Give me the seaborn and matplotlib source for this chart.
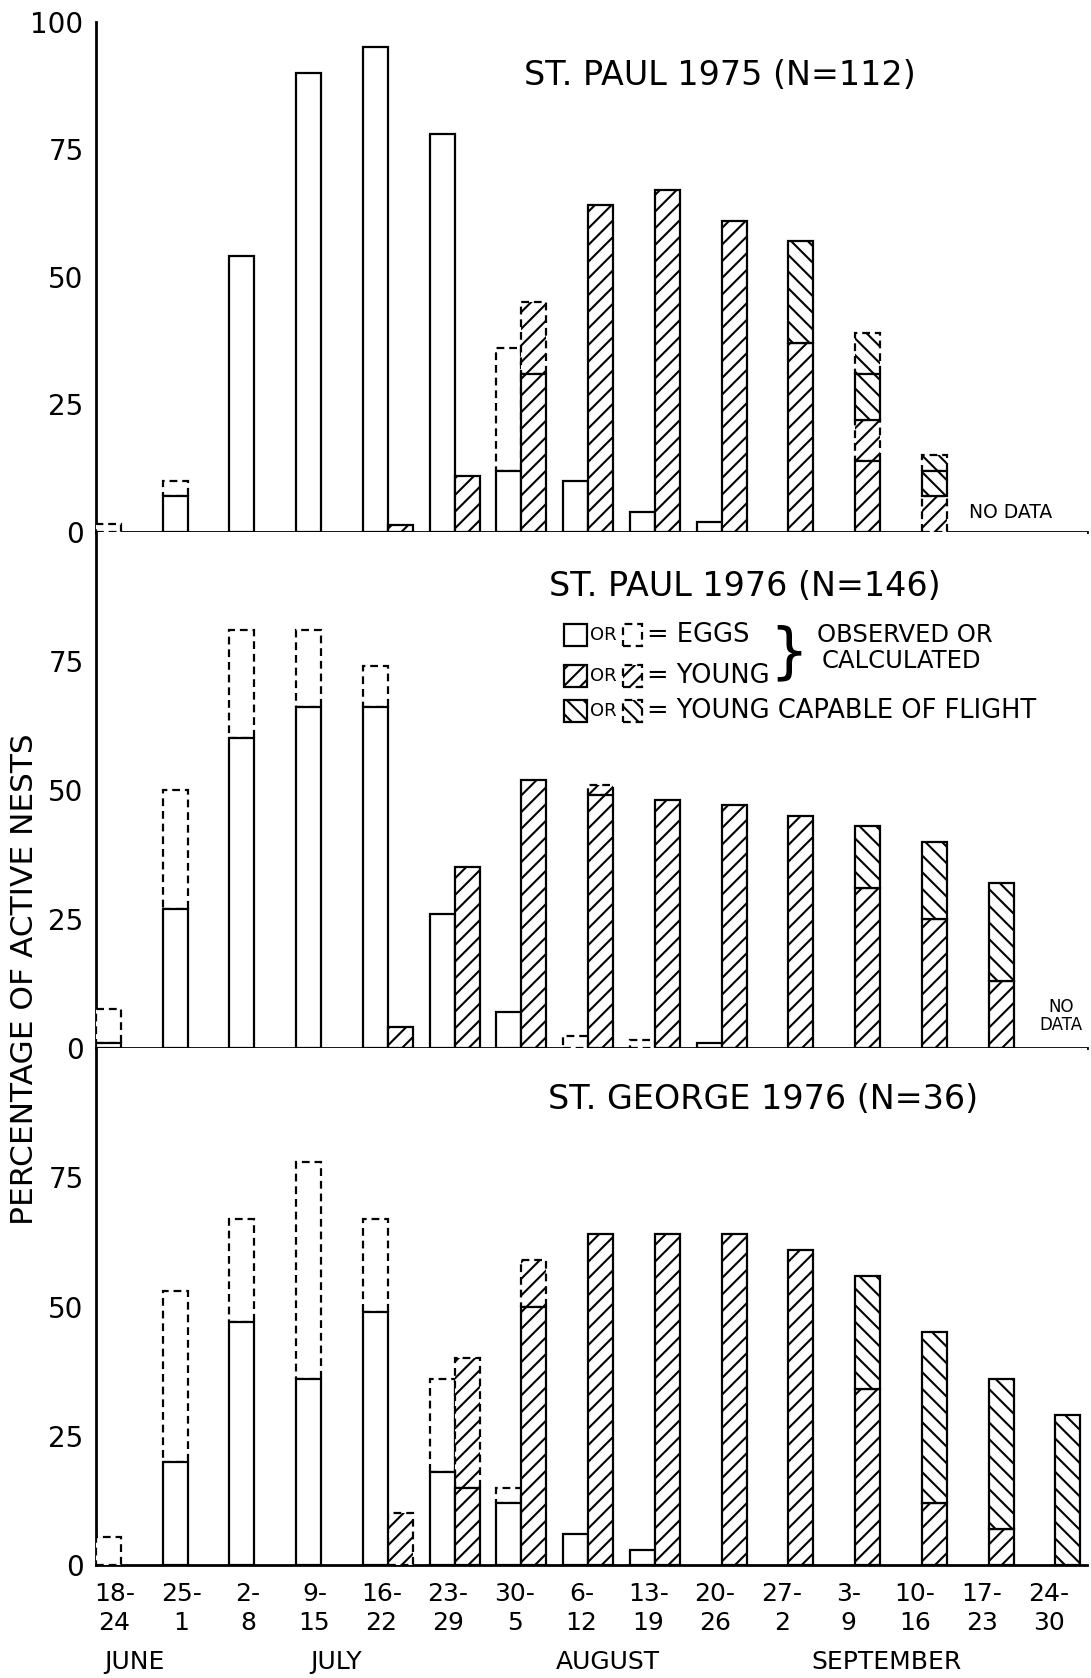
# %%
# ===== Importing Libraries =====

import numpy as np
import matplotlib.pyplot as plt
from matplotlib import font_manager
from matplotlib.patches import Rectangle
import seaborn as sns

sns.set_theme(style='white')
plt.rcParams['font.family'] = ['DejaVu Sans']
plt.rcParams['hatch.linewidth'] = 1.5
plt.rcParams['hatch.color'] = 'black'

# %%
# ===== Data (percentage of active nests per week) =====

weeks = ['18-\n24', '25-\n1', '2-\n8', '9-\n15', '16-\n22', '23-\n29', '30-\n5',
         '6-\n12', '13-\n19', '20-\n26', '27-\n2', '3-\n9', '10-\n16', '17-\n23', '24-\n30']
months = ['JUNE', 'JULY', 'AUGUST', 'SEPTEMBER']
titles = ['ST. PAUL 1975 (N=112)', 'ST. PAUL 1976 (N=146)', 'ST. GEORGE 1976 (N=36)']

# St. Paul 1975
sp75_eggs_obs = [0, 7, 54, 90, 95, 78, 12, 10, 4, 2, 0, 0, 0, 0, 0]
sp75_eggs_calc = [1.5, 3, 0, 0, 0, 0, 24, 0, 0, 0, 0, 0, 0, 0, 0]
sp75_young_obs = [0, 0, 0, 0, 1.3, 11, 31, 64, 67, 61, 37, 14, 0, 0, 0]
sp75_young_calc = [0, 0, 0, 0, 0, 0, 14, 0, 0, 0, 0, 8, 7, 0, 0]
sp75_flight_obs = [0, 0, 0, 0, 0, 0, 0, 0, 0, 0, 20, 9, 5, 0, 0]
sp75_flight_calc = [0, 0, 0, 0, 0, 0, 0, 0, 0, 0, 0, 8, 3, 0, 0]

# St. Paul 1976
sp76_eggs_obs = [1, 27, 60, 66, 66, 26, 7, 0, 0, 1, 0, 0, 0, 0, 0]
sp76_eggs_calc = [6.5, 23, 21, 15, 8, 0, 0, 2.3, 1.5, 0, 0, 0, 0, 0, 0]
sp76_young_obs = [0, 0, 0, 0, 4, 35, 52, 49, 48, 47, 45, 31, 25, 13, 0]
sp76_young_calc = [0, 0, 0, 0, 0, 0, 0, 2, 0, 0, 0, 0, 0, 0, 0]
sp76_flight_obs = [0, 0, 0, 0, 0, 0, 0, 0, 0, 0, 0, 12, 15, 19, 0]
sp76_flight_calc = [0] * 15

# St. George 1976
sg76_eggs_obs = [0, 20, 47, 36, 49, 18, 12, 6, 3, 0, 0, 0, 0, 0, 0]
sg76_eggs_calc = [5.5, 33, 20, 42, 18, 18, 3, 0, 0, 0, 0, 0, 0, 0, 0]
sg76_young_obs = [0, 0, 0, 0, 0, 15, 50, 64, 64, 64, 61, 34, 12, 7, 0]
sg76_young_calc = [0, 0, 0, 0, 10, 25, 9, 0, 0, 0, 0, 0, 0, 0, 0]
sg76_flight_obs = [0, 0, 0, 0, 0, 0, 0, 0, 0, 0, 0, 22, 33, 29, 29]
sg76_flight_calc = [0] * 15

panels = [
    (sp75_eggs_obs, sp75_eggs_calc, sp75_young_obs, sp75_young_calc, sp75_flight_obs, sp75_flight_calc),
    (sp76_eggs_obs, sp76_eggs_calc, sp76_young_obs, sp76_young_calc, sp76_flight_obs, sp76_flight_calc),
    (sg76_eggs_obs, sg76_eggs_calc, sg76_young_obs, sg76_young_calc, sg76_flight_obs, sg76_flight_calc),
]

# %%
# ===== Styles =====

names = {f.name for f in font_manager.fontManager.ttflist}
if 'Liberation Sans Narrow' in names:
    title_font, title_size = 'Liberation Sans Narrow', 31
else:
    title_font, title_size = 'DejaVu Sans', 24

W = 0.375
LW = 1.6
DASH = (0, (3.5, 2.2))
YOUNG, FLIGHT = '//', '\\\\'
solid = dict(facecolor='white', edgecolor='black', linewidth=LW)
dashed = dict(facecolor='white', edgecolor='black', linewidth=LW, linestyle=DASH)


def stacked(ax, xpos, bottom, heights, hatch, style, z):
    h = np.asarray(heights, dtype=float)
    m = h > 0
    ax.bar(xpos[m], h[m], W, bottom=bottom[m], hatch=hatch, zorder=z, **style)
    return bottom + h


def draw_panel(ax, eggs_obs, eggs_calc, young_obs, young_calc, flight_obs, flight_calc):
    x = np.arange(len(weeks), dtype=float)
    xe = x - W / 2
    xy = x + W / 2

    # eggs: observed (solid) below, calculated (dashed) on top
    base = np.zeros(len(weeks))
    top = stacked(ax, xe, base, eggs_obs, None, solid, 4)
    stacked(ax, xe, top, eggs_calc, None, dashed, 3)

    # young, then young capable of flight
    b0 = np.zeros(len(weeks))
    b1 = stacked(ax, xy, b0, young_obs, YOUNG, solid, 4)
    b2 = stacked(ax, xy, b1, young_calc, YOUNG, dashed, 3)
    b3 = stacked(ax, xy, b2, flight_obs, FLIGHT, solid, 4)
    stacked(ax, xy, b3, flight_calc, FLIGHT, dashed, 3)

    ax.set_xlim(-W, 14.47)
    ax.set_ylim(0, 100)
    sns.despine(ax=ax)
    for side in ['left', 'bottom']:
        ax.spines[side].set_linewidth(2)
        ax.spines[side].set_color('black')
    ax.tick_params(axis='y', length=0, pad=9, labelsize=20, colors='black')
    ax.tick_params(axis='x', length=0, pad=12, labelsize=18, colors='black')
    ax.grid(False)


# %%
# ===== Figure =====

fig = plt.figure(figsize=(10.91, 16.78), dpi=100)
axes_rect = [[0.088, 0.683, 0.908, 0.304],
             [0.088, 0.3755, 0.908, 0.3075],
             [0.088, 0.0673, 0.908, 0.308]]
axes = [fig.add_axes(r) for r in axes_rect]

for i, (ax, data) in enumerate(zip(axes, panels)):
    draw_panel(ax, *data)
    ax.set_yticks([0, 25, 50, 75, 100] if i == 0 else [0, 25, 50, 75])
    if i < 2:
        ax.set_xticks([])

title_pos = [(0.63, 0.895), (0.655, 0.895), (0.673, 0.90)]
for ax, t, (tx, ty) in zip(axes, titles, title_pos):
    ax.text(tx, ty, t, transform=ax.transAxes, ha='center', va='center',
            fontsize=title_size, family=[title_font, 'DejaVu Sans'], color='black')

# x tick labels and months on the bottom panel
bax = axes[2]
bax.set_xticks(np.arange(len(weeks)) - 0.1)
bax.set_xticklabels(weeks, linespacing=1.3)
month_x = [0.2, 3.22, 7.29, 11.47]
for mx, m in zip(month_x, months):
    bax.text(mx, -0.188, m, transform=bax.get_xaxis_transform(), ha='center',
             va='center', fontsize=18, color='black')

# no data notes
axes[0].text(12.7, 3.9, 'NO DATA', fontsize=13.5, ha='left', va='center', color='black')
axes[1].text(14.09, 6.2, 'NO\nDATA', fontsize=12, ha='center', va='center',
             linespacing=1.0, color='black')

# legend drawn in the middle panel
lax = axes[1]
rows = [(0.800, None), (0.721, YOUNG), (0.653, FLIGHT)]
bh = 0.0436
for ry, hatch in rows:
    lax.add_patch(Rectangle((0.472, ry - bh / 2), 0.0232, bh, transform=lax.transAxes,
                            hatch=hatch, clip_on=False, **solid))
    lax.text(0.4985, ry, 'OR', transform=lax.transAxes, fontsize=13,
             ha='left', va='center', color='black')
    lax.add_patch(Rectangle((0.532, ry - bh / 2), 0.0192, bh, transform=lax.transAxes,
                            hatch=hatch, clip_on=False, **dashed))
labels = ['= EGGS', '= YOUNG', '= YOUNG CAPABLE OF FLIGHT']
for (ry, _), lab in zip(rows, labels):
    lax.text(0.556, ry, lab, transform=lax.transAxes, fontsize=18.5,
             ha='left', va='center', color='black')
lax.text(0.699, 0.7636, '}', transform=lax.transAxes, fontsize=44,
         ha='center', va='center', color='black')
lax.text(0.7275, 0.800, 'OBSERVED OR', transform=lax.transAxes, fontsize=17.5,
         ha='left', va='center', color='black')
lax.text(0.7326, 0.750, 'CALCULATED', transform=lax.transAxes, fontsize=17.5,
         ha='left', va='center', color='black')

fig.text(0.022, 0.4166, 'PERCENTAGE OF ACTIVE NESTS', rotation=90, ha='center',
         va='center', fontsize=22.5, color='black')

fig.savefig('out.png', dpi=100, facecolor='white')
